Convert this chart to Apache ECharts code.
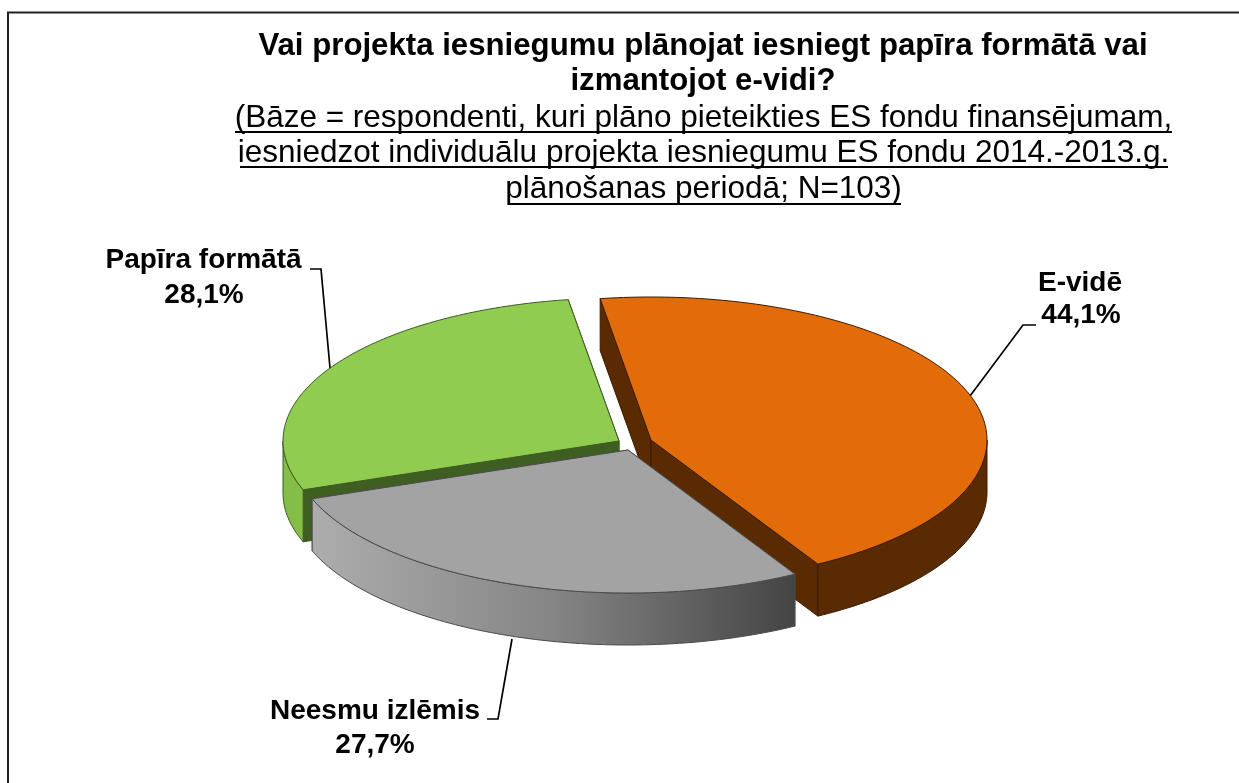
<!DOCTYPE html>
<html><head><meta charset="utf-8">
<script src="https://cdn.jsdelivr.net/npm/echarts@6/dist/echarts.min.js"></script>
<style>html,body{margin:0;padding:0;background:#fff}#c{width:1239px;height:783px}</style>
</head><body><div id="c"></div>
<script>
var categories = ['E-vidē', 'Neesmu izlēmis', 'Papīra formātā'];
var values = [44.1, 27.7, 28.1];
var valueLabels = ['44,1%', '27,7%', '28,1%'];
var titleLines = ['Vai projekta iesniegumu plānojat iesniegt papīra formātā vai', 'izmantojot e-vidi?'];
var subtitleLines = ['(Bāze = respondenti, kuri plāno pieteikties ES fondu finansējumam,',
  'iesniedzot individuālu projekta iesniegumu ES fondu 2014.-2013.g.',
  'plānošanas periodā; N=103)'];

var RX = 336, RY = 143, DEPTH = 52, START = -8.7;
var centers = [[651, 440], [628, 450], [619, 441]];
var drawZ = [2, 3, 1];
var topFill = ['#E36C0A', '#A3A3A3', '#8FCC50'];
var wallFill = ['#5A2A02', '#A3A3A3', '#3F5F22'];
var outerFill = [
  '#5A2A02',
  new echarts.graphic.LinearGradient(0, 0, 1, 0, [{offset: 0, color: '#ADADAD'}, {offset: .5, color: '#858585'}, {offset: 1, color: '#444444'}]),
  '#84BE46'
];
var edge = ['#3a1b01', '#4a4a4a', '#3d5a22'];
var labelPos = [[1080, 291, 1081, 323], [375, 719, 375, 753], [203.5, 268, 204, 303]];
var leaders = [[[1036, 325], [1023, 325], [970, 396]], [[487, 719], [498, 719], [512, 639]], [[310, 269], [321, 269], [330, 368]]];

var total = values.reduce(function (a, b) { return a + b; }, 0);
function pt(c, deg, dy) {
  var r = deg * Math.PI / 180;
  return [c[0] + RX * Math.sin(r), c[1] - RY * Math.cos(r) + (dy || 0)];
}
function arc(c, a, b, dy) {
  var p = [], n = Math.max(2, Math.ceil(Math.abs(b - a)));
  for (var i = 0; i <= n; i++) p.push(pt(c, a + (b - a) * i / n, dy));
  return p;
}
function poly(points, fill, stroke, z) {
  return {type: 'polygon', z2: z, shape: {points: points}, style: {fill: fill, stroke: stroke, lineWidth: 1}};
}
function renderItem(params, api) {
  var i = params.dataIndex, c = centers[i], z = drawZ[i] * 10;
  var before = 0;
  for (var k = 0; k < i; k++) before += values[k];
  var a = START + before / total * 360, b = a + api.value(0) / total * 360;
  var kids = [];
  [a, b].forEach(function (ang) {
    var e = pt(c, ang);
    kids.push(poly([c, e, pt(c, ang, DEPTH), [c[0], c[1] + DEPTH]], wallFill[i], edge[i], z));
  });
  var fa = Math.max(a, 90), fb = Math.min(b, 270);
  if (fb > fa) {
    kids.push(poly(arc(c, fa, fb, 0).concat(arc(c, fb, fa, DEPTH)), outerFill[i], edge[i], z + 1));
  }
  kids.push(poly([c].concat(arc(c, a, b, 0)), topFill[i], edge[i], z + 2));
  return {type: 'group', children: kids};
}

var graphics = [{type: 'rect', shape: {x: 8, y: 12.5, width: 1400, height: 1000}, style: {fill: 'none', stroke: '#222', lineWidth: 2}}];
function txt(s, x, baseline, size, bold) {
  graphics.push({type: 'text', x: x, y: baseline - 0.29 * size, style: {text: s, x: 0, y: 0, align: 'center', verticalAlign: 'middle',
    font: (bold ? 'bold ' : '') + size + 'px "Liberation Sans"', fill: '#000'}});
}
txt(titleLines[0], 703, 55, 31.2, true);
txt(titleLines[1], 703, 90, 31.2, true);
var subY = [127, 162, 198], ul = [[235, 1172, 132], [240, 1168, 167], [508, 901, 204]];
subtitleLines.forEach(function (s, i) {
  txt(s, 703.5, subY[i], 31.5, false);
  graphics.push({type: 'line', shape: {x1: ul[i][0], y1: ul[i][2], x2: ul[i][1], y2: ul[i][2]}, style: {stroke: '#000', lineWidth: 2}});
});
categories.forEach(function (name, i) {
  var p = labelPos[i];
  txt(name, p[0], p[1], 28, true);
  txt(valueLabels[i], p[2], p[3], 28, true);
  graphics.push({type: 'polyline', shape: {points: leaders[i]}, style: {fill: 'none', stroke: '#000', lineWidth: 1.7}});
});

var chart = echarts.init(document.getElementById('c'), null, {renderer: 'canvas'});
chart.setOption({
  backgroundColor: '#fff',
  animation: false,
  graphic: {elements: graphics},
  series: [{type: 'custom', coordinateSystem: 'none', renderItem: renderItem, data: values.map(function (v) { return [v]; })}]
});
</script></body></html>
